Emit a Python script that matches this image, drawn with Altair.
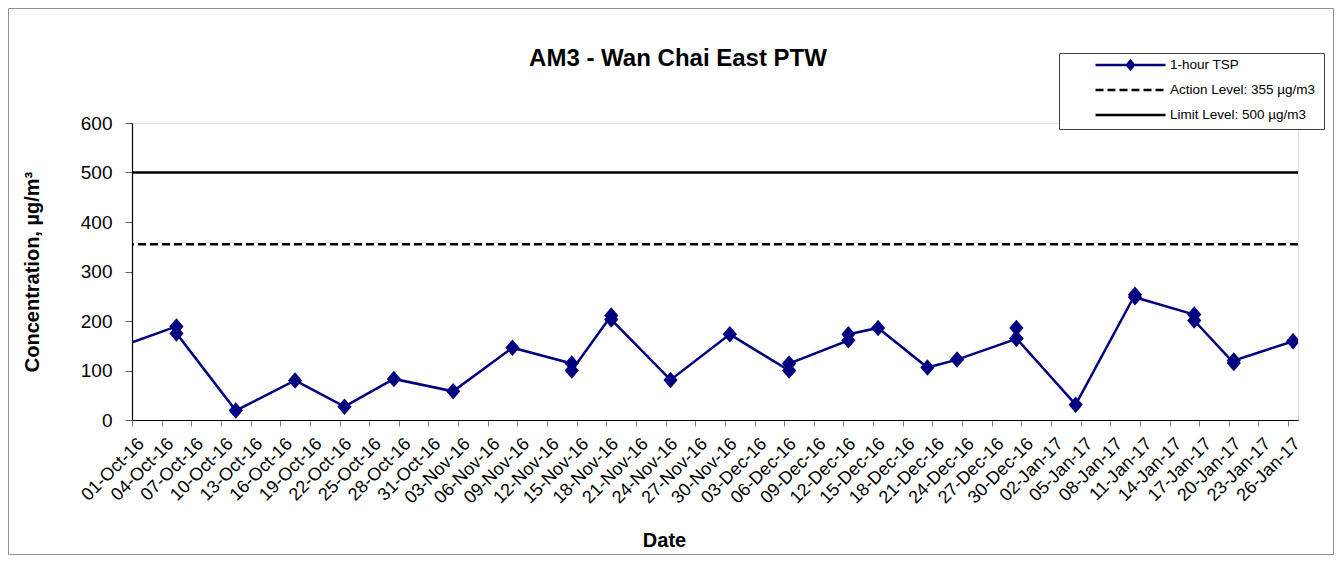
import altair as alt
import pandas as pd

# ---- data ----
dates = [
    "2016-09-29",
    "2016-10-05", "2016-10-05",
    "2016-10-11", "2016-10-17", "2016-10-22", "2016-10-27",
    "2016-11-02", "2016-11-08",
    "2016-11-14", "2016-11-14",
    "2016-11-18", "2016-11-18",
    "2016-11-24", "2016-11-30",
    "2016-12-06", "2016-12-06",
    "2016-12-12", "2016-12-12",
    "2016-12-15", "2016-12-20", "2016-12-23",
    "2016-12-29", "2016-12-29", "2016-12-29",
    "2017-01-04",
    "2017-01-10", "2017-01-10",
    "2017-01-16", "2017-01-16",
    "2017-01-20", "2017-01-20",
    "2017-01-26",
]
values = [
    146,
    189, 175,
    19, 80, 27, 83,
    58, 146,
    114, 100,
    211, 203,
    81, 173,
    100, 114,
    161, 173,
    186, 106, 122,
    164, 186, 165,
    31,
    253, 248,
    213, 201,
    115, 120,
    159,
]
title_text = "AM3 - Wan Chai East PTW"
tsp_name = "1-hour TSP"
level_names = ["Action Level: 355 µg/m3", "Limit Level: 500 µg/m3"]
level_values = [355, 500]
y_ticks = [0, 100, 200, 300, 400, 500, 600]
tick_dates = pd.date_range("2016-10-01", "2017-01-26", freq="3D")

W, H = 1166, 297
FONT = "Liberation Sans"
NAVY = "#000080"

tsp = pd.DataFrame({
    "date": [d + "T12:00:00" for d in dates],
    "value": values,
    "series": tsp_name,
    "idx": list(range(len(values))),
})
levels = pd.DataFrame({"level": level_names, "value": level_values})

common_legend = dict(
    title=None, orient="none", direction="vertical",
    symbolSize=4900, symbolStrokeWidth=2.5, symbolOffset=0, labelOffset=3,
    labelFont=FONT, labelFontSize=13.5, labelColor="#000000",
    padding=0, clipHeight=16, rowPadding=9,
)
legend_tsp = alt.Legend(
    legendX=962, legendY=-66,
    symbolType="M-1,0H1M0,-0.12L0.1,0L0,0.12L-0.1,0Z",
    symbolFillColor=NAVY, symbolStrokeColor=NAVY, **common_legend,
)
legend_lvl = alt.Legend(
    legendX=962, legendY=-41, symbolType="M-1,0H1",
    symbolStrokeColor="#000000", **common_legend,
)

x_scale = alt.Scale(domain=[alt.DateTime(year=2016, month=10, date=1, hours=0),
                            alt.DateTime(year=2017, month=1, date=27, hours=0)])
x_axis = alt.Axis(
    values=[alt.DateTime(year=t.year, month=t.month, date=t.day, hours=0) for t in tick_dates],
    format="%d-%b-%y", labelAngle=-45, labelAlign="right", labelBaseline="middle",
    labelFont=FONT, labelFontSize=18, labelColor="#000000", labelPadding=15,
    labelOffset=9, labelOverlap=False, labelFlush=False, labelBound=False,
    tickSize=6, tickColor="#808080", domainColor="#000000", domainWidth=1.2,
    grid=False, title="Date", titleFont=FONT, titleFontSize=20, titleFontWeight="bold",
    titleColor="#000000", titleX=532, titleY=126, titleAlign="center",
    titleBaseline="alphabetic", titleAngle=0,
)
y_scale = alt.Scale(domain=[0, 600], nice=False, zero=True)
y_axis = alt.Axis(
    values=y_ticks, labelFont=FONT, labelFontSize=19, labelColor="#000000",
    labelPadding=13, tickSize=7, tickColor="#606060", domainColor="#000000",
    domainWidth=1.2, grid=False, labelOverlap=False,
    title="Concentration, µg/m³", titleFont=FONT, titleFontSize=20,
    titleFontWeight="bold", titleColor="#000000", titleAngle=270,
    titleX=-93.5, titleY=H / 2, titleAlign="center", titleBaseline="alphabetic",
)


def xe():
    return alt.X("date:T", scale=x_scale, axis=x_axis)


def ye():
    return alt.Y("value:Q", scale=y_scale, axis=y_axis)


frame_df = pd.DataFrame({"k": [0]})
border = alt.Chart(frame_df).mark_rect(
    fill="#ffffff", fillOpacity=0, stroke="#909090", strokeWidth=1
).encode(
    x=alt.value(-123.5), x2=alt.value(W + 35.5),
    y=alt.value(-114.5), y2=alt.value(H + 134.5),
)
legend_box = alt.Chart(frame_df).mark_rect(
    fill="#ffffff", stroke="#404040", strokeWidth=1
).encode(
    x=alt.value(927.5), x2=alt.value(1192.5),
    y=alt.value(-69.5), y2=alt.value(6.5),
)
title = alt.Chart(frame_df).mark_text(
    text=title_text, font=FONT, fontSize=24, fontWeight="bold", color="#000000",
    align="center", baseline="alphabetic",
).encode(x=alt.value(546), y=alt.value(-57))

rules = alt.Chart(levels).mark_rule(strokeWidth=2.5, color="#000000").encode(
    y=ye(),
    strokeDash=alt.StrokeDash(
        "level:N",
        scale=alt.Scale(domain=level_names, range=[[8, 4], [1, 0]]),
        legend=legend_lvl,
    ),
)

line = alt.Chart(tsp).mark_line(strokeWidth=2.5, clip=True, color=NAVY).encode(
    x=xe(), y=ye(), order=alt.Order("idx:Q"),
)

points = alt.Chart(tsp).mark_point(
    shape="M0,-1.1L0.95,0L0,1.1L-0.95,0Z", filled=True, size=225,
    opacity=1, clip=True,
).encode(
    x=xe(), y=ye(),
    color=alt.Color("series:N", scale=alt.Scale(domain=[tsp_name], range=[NAVY]),
                    legend=legend_tsp),
)

chart = alt.layer(border, legend_box, title, rules, line, points).properties(
    width=W, height=H,
    autosize=alt.AutoSizeParams(type="none"),
    padding={"left": 124, "top": 115, "right": 36, "bottom": 135},
).resolve_scale(color="independent", strokeDash="independent").configure_view(
    stroke=None
).configure(background="#ffffff")

chart.save("out.html", embed_options={"renderer": "svg", "actions": False})
